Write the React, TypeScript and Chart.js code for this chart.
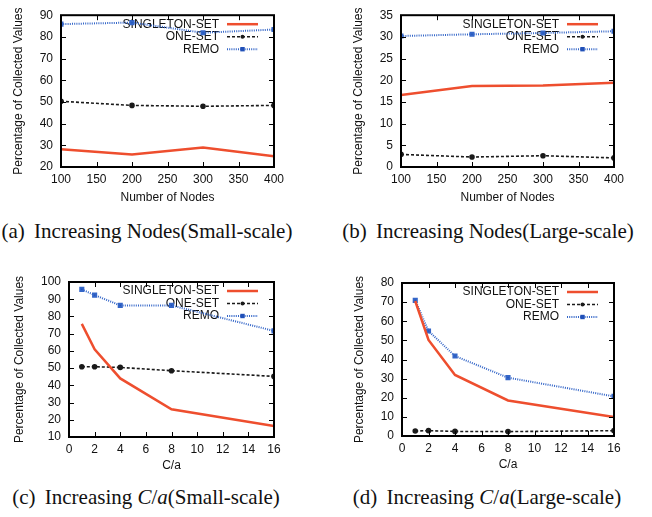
import React, { useEffect, useRef } from "react";
import { Chart, registerables } from "chart.js";

Chart.register(...registerables);

// ---------- data ----------
const nodesX = [100, 200, 300, 400];
const caX = [1, 2, 4, 8, 16];

const singletonSmallNodes = [28.2, 25.8, 29.0, 25.0];
const oneSetSmallNodes = [50.3, 48.4, 48.0, 48.4];
const remoSmallNodes = [85.9, 86.6, 81.9, 83.4];

const singletonLargeNodes = [16.6, 18.7, 18.8, 19.4];
const oneSetLargeNodes = [2.9, 2.3, 2.6, 2.1];
const remoLargeNodes = [30.2, 30.6, 30.9, 31.3];

const singletonSmallCa = [75.7, 60.9, 44.0, 26.1, 16.4];
const oneSetSmallCa = [50.8, 50.8, 50.4, 48.5, 45.2];
const remoSmallCa = [95.7, 92.4, 86.4, 86.4, 71.6];

const singletonLargeCa = [70.6, 50.2, 31.9, 18.6, 9.9];
const oneSetLargeCa = [2.6, 2.8, 2.4, 2.3, 2.8];
const remoLargeCa = [70.9, 54.9, 41.8, 30.5, 20.7];

const seriesNames = ["SINGLETON-SET", "ONE-SET", "REMO"];
const yTitle = "Percentage of Collected Values";
const xTitleNodes = "Number of Nodes";
const xTitleCa = "C/a";

// ---------- styles ----------
const FONT = '"Liberation Sans", Arial, sans-serif';
const RED = "#ee4e2e";
const BLACK = "#1a1a1a";
const BLUE = "#3466c8";

const toPts = (xs: number[], ys: number[]) => xs.map((x, i) => ({ x, y: ys[i] }));

const makeDatasets = (xs: number[], s: number[], o: number[], r: number[]) => [
  {
    label: seriesNames[0],
    data: toPts(xs, s),
    borderColor: RED,
    backgroundColor: RED,
    borderWidth: 2.5,
    pointRadius: 0,
    borderDash: [],
  },
  {
    label: seriesNames[1],
    data: toPts(xs, o),
    borderColor: BLACK,
    backgroundColor: BLACK,
    borderWidth: 1.6,
    borderDash: [3, 2],
    pointRadius: 2,
    pointStyle: "circle",
  },
  {
    label: seriesNames[2],
    data: toPts(xs, r),
    borderColor: BLUE,
    backgroundColor: "#2050b8",
    borderWidth: 2,
    borderDash: [1, 1.2],
    pointRadius: 2.2,
    pointStyle: "rect",
  },
];

const gpPlugin = {
  id: "gpFrame",
  beforeDatasetsDraw(chart: any) {
    const { ctx, chartArea } = chart;
    const { top, right } = chartArea;
    const rows = [top + 9, top + 21.5, top + 34];
    ctx.save();
    ctx.font = `12px ${FONT}`;
    ctx.textAlign = "right";
    ctx.textBaseline = "middle";
    chart.data.datasets.forEach((ds: any, i: number) => {
      const y = rows[i];
      ctx.fillStyle = "#111";
      ctx.fillText(ds.label, right - 55, y);
      ctx.beginPath();
      ctx.strokeStyle = ds.borderColor;
      ctx.lineWidth = ds.borderWidth;
      ctx.setLineDash(ds.borderDash || []);
      ctx.moveTo(right - 47, y);
      ctx.lineTo(right - 16, y);
      ctx.stroke();
      ctx.setLineDash([]);
      if (ds.pointRadius > 0) {
        ctx.fillStyle = ds.backgroundColor;
        const cx = right - 31.5;
        if (ds.pointStyle === "rect") {
          ctx.fillRect(cx - ds.pointRadius, y - ds.pointRadius, ds.pointRadius * 2, ds.pointRadius * 2);
        } else {
          ctx.beginPath();
          ctx.arc(cx, y, ds.pointRadius, 0, Math.PI * 2);
          ctx.fill();
        }
      }
    });
    ctx.restore();
  },
  afterDatasetsDraw(chart: any) {
    const { ctx, chartArea, scales } = chart;
    const { left, right, top, bottom } = chartArea;
    ctx.save();
    ctx.strokeStyle = "#000";
    ctx.lineWidth = 1;
    ctx.beginPath();
    scales.x.ticks.forEach((t: any) => {
      const x = Math.round(scales.x.getPixelForValue(t.value)) + 0.5;
      if (x <= left + 1 || x >= right - 1) return;
      ctx.moveTo(x, bottom);
      ctx.lineTo(x, bottom - 5);
      ctx.moveTo(x, top);
      ctx.lineTo(x, top + 5);
    });
    scales.y.ticks.forEach((t: any) => {
      const y = Math.round(scales.y.getPixelForValue(t.value)) + 0.5;
      if (y <= top + 1 || y >= bottom - 1) return;
      ctx.moveTo(left, y);
      ctx.lineTo(left + 5, y);
      ctx.moveTo(right, y);
      ctx.lineTo(right - 5, y);
    });
    ctx.stroke();
    ctx.lineWidth = 2;
    ctx.strokeRect(left, top, right - left, bottom - top);
    ctx.restore();
  },
};

type PanelCfg = {
  id: string;
  left: number;
  top: number;
  width: number;
  height: number;
  padTop: number;
  padRight: number;
  padBottom: number;
  yWidth: number;
  xHeight: number;
  yTitlePad: number;
  xs: number[];
  s: number[];
  o: number[];
  r: number[];
  xMin: number;
  xMax: number;
  xStep: number;
  yMin: number;
  yMax: number;
  yStep: number;
  xTitle: string;
};

const panels: PanelCfg[] = [
  {
    id: "a", left: 0, top: 0, width: 326, height: 210,
    padTop: 14, padRight: 52, padBottom: 4.8, yWidth: 61, xHeight: 38.2, yTitlePad: 11.8,
    xs: nodesX, s: singletonSmallNodes, o: oneSetSmallNodes, r: remoSmallNodes,
    xMin: 100, xMax: 400, xStep: 50, yMin: 20, yMax: 90, yStep: 10, xTitle: xTitleNodes,
  },
  {
    id: "b", left: 326, top: 0, width: 326, height: 210,
    padTop: 14, padRight: 38, padBottom: 4.8, yWidth: 75, xHeight: 38.2, yTitlePad: 25.8,
    xs: nodesX, s: singletonLargeNodes, o: oneSetLargeNodes, r: remoLargeNodes,
    xMin: 100, xMax: 400, xStep: 50, yMin: 0, yMax: 35, yStep: 5, xTitle: xTitleNodes,
  },
  {
    id: "c", left: 0, top: 250, width: 326, height: 225,
    padTop: 32, padRight: 52, padBottom: 1.8, yWidth: 69, xHeight: 36.2, yTitlePad: 12.3,
    xs: caX, s: singletonSmallCa, o: oneSetSmallCa, r: remoSmallCa,
    xMin: 0, xMax: 16, xStep: 2, yMin: 10, yMax: 100, yStep: 10, xTitle: xTitleCa,
  },
  {
    id: "d", left: 326, top: 250, width: 326, height: 225,
    padTop: 33, padRight: 38, padBottom: 2.8, yWidth: 76, xHeight: 36.2, yTitlePad: 26.3,
    xs: caX, s: singletonLargeCa, o: oneSetLargeCa, r: remoLargeCa,
    xMin: 0, xMax: 16, xStep: 2, yMin: 0, yMax: 80, yStep: 10, xTitle: xTitleCa,
  },
];

function Panel({ cfg }: { cfg: PanelCfg }) {
  const ref = useRef<HTMLCanvasElement>(null);
  useEffect(() => {
    if (!ref.current) return;
    const font = { family: FONT, size: 12, lineHeight: 1.2 };
    const chart = new Chart(ref.current, {
      type: "line",
      data: { datasets: makeDatasets(cfg.xs, cfg.s, cfg.o, cfg.r) as any },
      options: {
        animation: false,
        responsive: false,
        devicePixelRatio: 1,
        layout: { padding: { left: 0, top: cfg.padTop, right: cfg.padRight, bottom: cfg.padBottom } },
        plugins: { legend: { display: false }, tooltip: { enabled: false }, title: { display: false } },
        elements: { line: { tension: 0 } },
        scales: {
          x: {
            type: "linear",
            min: cfg.xMin,
            max: cfg.xMax,
            grid: { display: false, drawTicks: false },
            border: { display: false },
            ticks: { stepSize: cfg.xStep, padding: 5, color: "#111", font, maxRotation: 0, autoSkip: false },
            title: { display: true, text: cfg.xTitle, color: "#111", font, padding: { top: 0, bottom: 0 } },
            afterFit: (s: any) => { s.height = cfg.xHeight; },
          },
          y: {
            type: "linear",
            min: cfg.yMin,
            max: cfg.yMax,
            grid: { display: false, drawTicks: false },
            border: { display: false },
            ticks: { stepSize: cfg.yStep, padding: 8, color: "#111", font, autoSkip: false },
            title: { display: true, text: yTitle, color: "#111", font, padding: { top: cfg.yTitlePad, bottom: 0 } },
            afterFit: (s: any) => { s.width = cfg.yWidth; },
          },
        },
      } as any,
      plugins: [gpPlugin],
    });
    return () => chart.destroy();
  }, [cfg]);
  return (
    <canvas
      ref={ref}
      width={cfg.width}
      height={cfg.height}
      style={{ position: "absolute", left: cfg.left, top: cfg.top, width: cfg.width, height: cfg.height }}
    />
  );
}

const captionStyle = (center: number, top: number): React.CSSProperties => ({
  position: "absolute",
  left: center - 200,
  top,
  width: 400,
  textAlign: "center",
  fontFamily: '"Liberation Serif", "Times New Roman", serif',
  fontSize: 21,
  lineHeight: "21px",
  color: "#111",
  whiteSpace: "nowrap",
});

const lbl: React.CSSProperties = { marginRight: 4 };

export default function App() {
  return (
    <div style={{ position: "absolute", left: 0, top: 0, width: 652, height: 517, background: "#fff", overflow: "hidden" }}>
      {panels.map((p) => (
        <Panel key={p.id} cfg={p} />
      ))}
      <div style={captionStyle(147, 221)}>
        <span style={lbl}>(a)</span> Increasing Nodes(Small-scale)
      </div>
      <div style={captionStyle(488, 221)}>
        <span style={lbl}>(b)</span> Increasing Nodes(Large-scale)
      </div>
      <div style={captionStyle(146, 487)}>
        <span style={lbl}>(c)</span> Increasing <i>C</i>/<i>a</i>(Small-scale)
      </div>
      <div style={captionStyle(487, 487)}>
        <span style={lbl}>(d)</span> Increasing <i>C</i>/<i>a</i>(Large-scale)
      </div>
    </div>
  );
}
